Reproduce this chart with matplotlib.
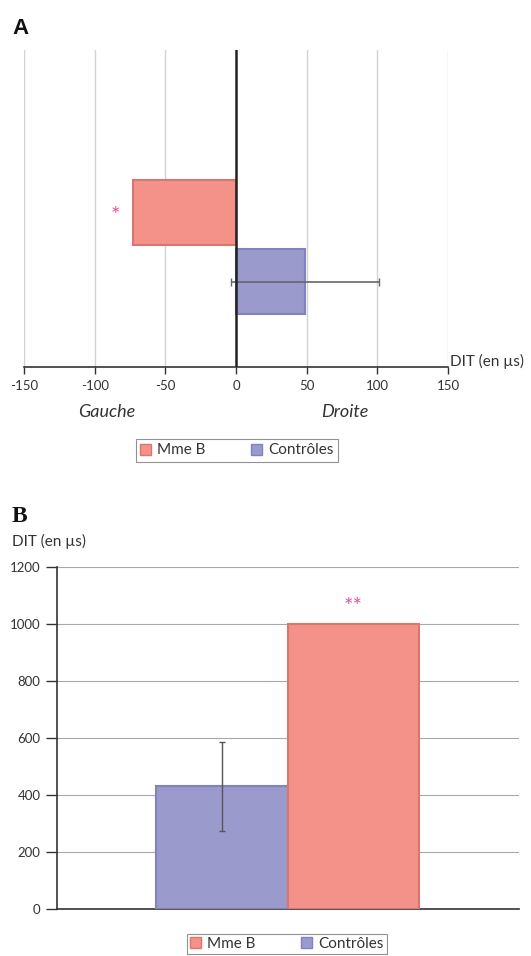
import matplotlib
matplotlib.use("Agg")
import matplotlib.pyplot as plt
from matplotlib.patches import Patch

plt.rcParams['font.family'] = ['Lato', 'DejaVu Sans']

# ---- Data ----
series = ["Mme B", "Contrôles"]
# Panel A: DIT (µs), négatif = gauche, positif = droite
a_values = [-73, 49]
a_errors = [0, 52.5]
a_ticks = [-150, -100, -50, 0, 50, 100, 150]
# Panel B: DIT (µs)
b_series_order = ["Contrôles", "Mme B"]
b_values = [430, 1000]
b_errors = [156, 0]
b_ticks = [0, 200, 400, 600, 800, 1000, 1200]

col = {"Mme B": "#F4928A", "Contrôles": "#9A9ACC"}
edge = {"Mme B": "#D87670", "Contrôles": "#8282BE"}
star_col = "#E8559A"
txt = "#333333"

W, H = 531, 956
fig = plt.figure(figsize=(W / 100, H / 100), dpi=100)

def ax_px(l, t, r, b):
    return fig.add_axes([l / W, 1 - b / H, (r - l) / W, (b - t) / H])

# ---------------- Panel A ----------------
axA = ax_px(24, 50, 448, 367)
bh = 0.4
offs = [0.21, -0.21]
for i, s in enumerate(series):
    axA.barh(offs[i], a_values[i], height=bh, color=col[s], edgecolor=edge[s],
             linewidth=1.5, zorder=3)
axA.errorbar(a_values[1], offs[1], xerr=a_errors[1], fmt='none', ecolor='#666666',
             elinewidth=1.2, capsize=3, capthick=1.0, zorder=4)
axA.text(-85, offs[0] - 0.02, "*", color=star_col, fontsize=16, ha='center', va='center', zorder=5)
axA.set_xlim(-150, 150)
axA.set_ylim(-0.73, 1.2)
axA.set_xticks(a_ticks)
axA.set_xticklabels([str(t) for t in a_ticks], fontsize=9.5, color=txt)
axA.set_yticks([])
for t in a_ticks:
    if t != 0:
        axA.axvline(t, color='#d2d2d2', lw=1.0, zorder=1)
axA.axvline(0, color='#222222', lw=1.8, zorder=4)
for sp in ['top', 'right', 'left']:
    axA.spines[sp].set_visible(False)
axA.spines['bottom'].set_color('#333333')
axA.spines['bottom'].set_linewidth(1.2)
axA.tick_params(axis='x', direction='out', length=5, width=1, color='#333333', pad=4)
fig.text(450 / W, 1 - 361 / H, "DIT (en µs)", fontsize=11, color=txt, ha='left', va='center')
fig.text(107 / W, 1 - 412 / H, "Gauche", fontsize=13, style='italic', color=txt,
         ha='center', va='center')
fig.text(345 / W, 1 - 412 / H, "Droite", fontsize=13, style='italic', color=txt,
         ha='center', va='center')
fig.text(12 / W, 1 - 28 / H, "A", fontsize=16, fontweight='bold', color='#111111',
         family=['Liberation Sans', 'DejaVu Sans'], ha='left', va='center')

handles = [Patch(facecolor=col[s], edgecolor=edge[s], label=s) for s in series]
legA = fig.legend(handles=handles, loc='center', bbox_to_anchor=(237 / W, 1 - 450.5 / H),
                  ncol=2, fontsize=11, frameon=True, fancybox=False, handlelength=0.7,
                  handleheight=0.7, columnspacing=3.0, handletextpad=0.4,
                  borderpad=0.3, borderaxespad=0, labelcolor=txt)
legA.get_frame().set_edgecolor('#777777')
legA.get_frame().set_linewidth(0.8)

# ---------------- Panel B ----------------
axB = ax_px(57, 567, 519, 908.7)
bw = 0.4
xpos = [-0.2, 0.2]
for i, s in enumerate(b_series_order):
    axB.bar(xpos[i], b_values[i], width=bw, color=col[s], edgecolor=edge[s],
            linewidth=1.5, zorder=3)
    if b_errors[i] > 0:
        axB.errorbar(xpos[i], b_values[i], yerr=b_errors[i], fmt='none', ecolor='#555555',
                     elinewidth=1.0, capsize=2.5, capthick=1.0, zorder=4)
axB.text(0.2, 1058, "**", color=star_col, fontsize=16, ha='center', va='center')
axB.set_xlim(-0.7, 0.703)
axB.set_ylim(0, 1200)
axB.set_yticks(b_ticks)
axB.set_yticklabels([str(t) for t in b_ticks], fontsize=9.5, color=txt)
axB.set_xticks([])
axB.yaxis.grid(True, color='#a8a8a8', lw=0.8, zorder=0)
axB.set_axisbelow(True)
for sp in ['top', 'right']:
    axB.spines[sp].set_visible(False)
for sp in ['left', 'bottom']:
    axB.spines[sp].set_color('#333333')
    axB.spines[sp].set_linewidth(1.2)
axB.tick_params(axis='y', direction='out', length=8, width=1, color='#333333', pad=4)
fig.text(12 / W, 1 - 541 / H, "DIT (en µs)", fontsize=11, color=txt, ha='left', va='center')
fig.text(12 / W, 1 - 517 / H, "B", fontsize=17, fontweight='bold', color='#111111',
         family=['Liberation Serif', 'DejaVu Serif'], ha='left', va='center')

legB = fig.legend(handles=handles, loc='upper center', bbox_to_anchor=(287 / W, 1 - 934 / H),
                  ncol=2, fontsize=11, frameon=True, fancybox=False, handlelength=0.7,
                  handleheight=0.7, columnspacing=3.0, handletextpad=0.4,
                  borderpad=0.2, borderaxespad=0, labelcolor=txt)
legB.get_frame().set_edgecolor('#777777')
legB.get_frame().set_linewidth(0.8)

fig.savefig("out.png", dpi=100)
